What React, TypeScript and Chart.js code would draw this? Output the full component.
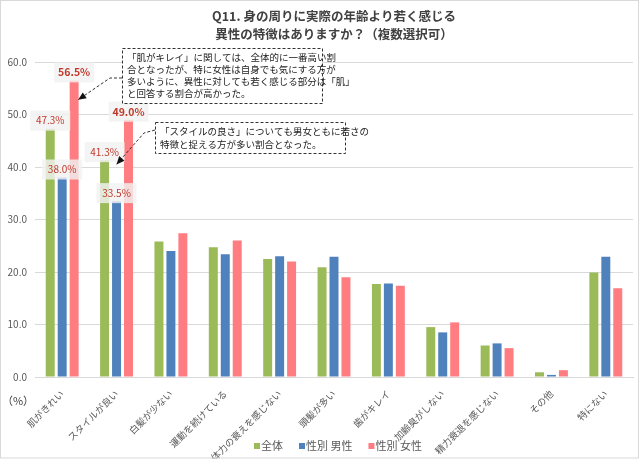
import React, { useEffect, useRef } from "react";
import { Chart, registerables } from "chart.js";

Chart.register(...registerables);

const titleLines = ["Q11. 身の周りに実際の年齢より若く感じる", "異性の特徴はありますか？（複数選択可）"];
const categories = [
  "肌がきれい",
  "スタイルが良い",
  "白髪が少ない",
  "運動を続けている",
  "体力の衰えを感じない",
  "頭髪が多い",
  "歯がキレイ",
  "加齢臭がしない",
  "精力衰退を感じない",
  "その他",
  "特にない",
];
const seriesNames = ["全体", "性別 男性", "性別 女性"];
const allValues = [47.3, 41.3, 25.8, 24.7, 22.5, 20.9, 17.7, 9.5, 6.0, 0.9, 19.9];
const maleValues = [38.0, 33.5, 24.0, 23.4, 23.0, 22.9, 17.8, 8.5, 6.4, 0.4, 22.9];
const femaleValues = [56.5, 49.0, 27.4, 26.0, 22.0, 19.0, 17.4, 10.4, 5.5, 1.3, 16.9];
const labeledCategoryCount = 2;
const note1Lines = [
  "「肌がキレイ」に関しては、全体的に一番高い割",
  "合となったが、特に女性は自身でも気にする方が",
  "多いように、異性に対しても若く感じる部分は「肌」",
  "と回答する割合が高かった。",
];
const note2Lines = [
  "「スタイルの良さ」についても男女ともに若さの",
  "特徴と捉える方が多い割合となった。",
];
const note1Target = 52.8;
const note2Target = 40.5;
const unitLabel = "（%）";

const FONT = "'Noto Sans CJK JP', 'Noto Sans', sans-serif";
const COLORS = ["#9BBB59", "#4F81BD", "#FF7C80"];
const LABEL_RED = "#C0392B";

function arrow(ctx: CanvasRenderingContext2D, pts: number[][]) {
  ctx.save();
  ctx.strokeStyle = "#333";
  ctx.fillStyle = "#111";
  ctx.lineWidth = 1;
  ctx.setLineDash([3, 2]);
  ctx.beginPath();
  ctx.moveTo(pts[0][0], pts[0][1]);
  for (let i = 1; i < pts.length; i++) ctx.lineTo(pts[i][0], pts[i][1]);
  ctx.stroke();
  ctx.setLineDash([]);
  const [x1, y1] = pts[pts.length - 2];
  const [x2, y2] = pts[pts.length - 1];
  const a = Math.atan2(y2 - y1, x2 - x1);
  const L = 8, W = 3.5;
  ctx.beginPath();
  ctx.moveTo(x2, y2);
  ctx.lineTo(x2 - L * Math.cos(a) + W * Math.sin(a), y2 - L * Math.sin(a) - W * Math.cos(a));
  ctx.lineTo(x2 - L * Math.cos(a) - W * Math.sin(a), y2 - L * Math.sin(a) + W * Math.cos(a));
  ctx.closePath();
  ctx.fill();
  ctx.restore();
}

function noteBox(ctx: CanvasRenderingContext2D, x: number, y: number, w: number, h: number, lines: string[], lineGap: number) {
  ctx.save();
  ctx.fillStyle = "#ffffff";
  ctx.fillRect(x, y, w, h);
  ctx.strokeStyle = "#333";
  ctx.lineWidth = 1;
  ctx.setLineDash([3, 2]);
  ctx.strokeRect(x + 0.5, y + 0.5, w, h);
  ctx.setLineDash([]);
  ctx.fillStyle = "#222";
  ctx.font = `9.5px ${FONT}`;
  ctx.textAlign = "left";
  ctx.textBaseline = "middle";
  lines.forEach((t, i) => ctx.fillText(t, x + 5, y + 9 + i * lineGap));
  ctx.restore();
}

const decorPlugin = {
  id: "decor",
  afterDatasetsDraw(chart: any) {
    const ctx = chart.ctx as CanvasRenderingContext2D;
    ctx.save();
    for (let d = 0; d < 3; d++) {
      const meta = chart.getDatasetMeta(d);
      for (let i = 0; i < labeledCategoryCount; i++) {
        const bar = meta.data[i];
        const v = chart.data.datasets[d].data[i];
        const cx = bar.x;
        const cy = bar.y - 8;
        ctx.fillStyle = "rgba(242,242,242,0.82)";
        ctx.fillRect(cx - 20, cy - 10, 40, 20);
        ctx.fillStyle = LABEL_RED;
        ctx.font = (d === 2 ? "bold 10.5px " : "10px ") + FONT;
        ctx.textAlign = "center";
        ctx.textBaseline = "middle";
        ctx.fillText(v.toFixed(1) + "%", cx, cy);
      }
    }
    ctx.restore();
  },
  afterDraw(chart: any) {
    const ctx = chart.ctx as CanvasRenderingContext2D;
    const W = chart.width;
    const H = chart.height;
    const ys = chart.scales.y;
    ctx.save();
    // outer border
    ctx.strokeStyle = "#d9d9d9";
    ctx.lineWidth = 1;
    ctx.strokeRect(0.5, 0.5, W - 2, H - 1.5);
    // title
    ctx.fillStyle = "#404040";
    ctx.font = `bold 12.5px ${FONT}`;
    ctx.textAlign = "center";
    ctx.textBaseline = "middle";
    ctx.fillText(titleLines[0], 334, 16);
    ctx.fillText(titleLines[1], 334, 34);
    // unit
    ctx.font = `11px ${FONT}`;
    ctx.fillStyle = "#404040";
    ctx.fillText(unitLabel, 18, 401);
    // legend
    ctx.font = `11px ${FONT}`;
    ctx.textAlign = "left";
    let lx = 254;
    seriesNames.forEach((n, i) => {
      ctx.fillStyle = COLORS[i];
      ctx.fillRect(lx, 443, 6, 6);
      ctx.fillStyle = "#595959";
      ctx.fillText(n, lx + 7, 446);
      lx += 7 + ctx.measureText(n).width + 16;
    });
    ctx.restore();

    // callouts
    const pink0 = chart.getDatasetMeta(2).data[0];
    const blue1 = chart.getDatasetMeta(1).data[1];
    noteBox(ctx, 122, 48, 200, 55, note1Lines, 12);
    noteBox(ctx, 155, 122, 190, 31, note2Lines, 13);
    arrow(ctx, [[122, 78], [110, 78], [pink0.x + 4, ys.getPixelForValue(note1Target)]]);
    arrow(ctx, [[155, 130], [144, 133], [blue1.x, ys.getPixelForValue(note2Target)]]);
  },
};

export default function App() {
  const ref = useRef<HTMLCanvasElement | null>(null);
  useEffect(() => {
    if (!ref.current) return;
    Chart.defaults.font.family = FONT;
    const chart = new Chart(ref.current, {
      type: "bar",
      data: {
        labels: categories,
        datasets: [allValues, maleValues, femaleValues].map((vals, i) => ({
          label: seriesNames[i],
          data: vals,
          backgroundColor: COLORS[i],
          borderWidth: 0,
          categoryPercentage: 0.66,
          barPercentage: 0.75,
        })),
      },
      options: {
        responsive: false,
        animation: false,
        layout: { padding: { left: 5, right: 7, top: 62, bottom: 0 } },
        plugins: {
          legend: { display: false },
          title: { display: false },
          tooltip: { enabled: false },
        },
        scales: {
          x: {
            grid: { display: false },
            border: { display: true, color: "#d9d9d9" },
            ticks: {
              minRotation: 45,
              maxRotation: 45,
              autoSkip: false,
              color: "#595959",
              font: { size: 9.5, family: FONT },
              padding: 3,
            },
            afterFit: (s: any) => {
              s.height = 82;
            },
          },
          y: {
            min: 0,
            max: 60,
            grid: { color: "#d9d9d9", drawTicks: false },
            border: { display: false },
            ticks: {
              stepSize: 10,
              color: "#595959",
              font: { size: 10, family: FONT },
              padding: 8,
              callback: (v: any) => Number(v).toFixed(1),
            },
            afterFit: (s: any) => {
              s.width = 30;
            },
          },
        },
      },
      plugins: [decorPlugin],
    });
    return () => chart.destroy();
  }, []);
  return (
    <div style={{ position: "absolute", left: 0, top: 0, width: 640, height: 459, background: "#fff" }}>
      <canvas ref={ref} width={640} height={459} />
    </div>
  );
}
